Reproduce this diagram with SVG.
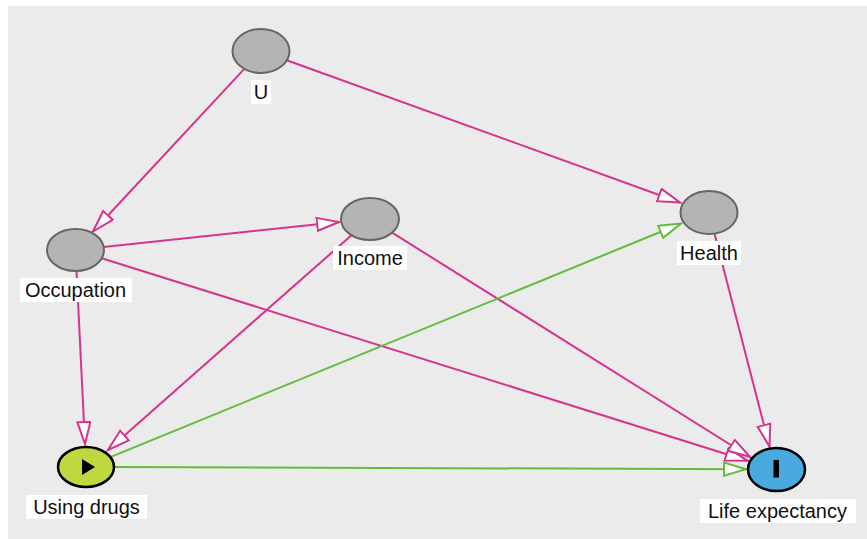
<svg xmlns="http://www.w3.org/2000/svg" width="867" height="539" viewBox="0 0 867 539">
<defs>
<style>
.bg{fill:#ebebeb}
.edge{fill:none;stroke-width:2}
.pink{stroke:#d6338f}
.green{stroke:#63bb3c}
.node{fill:#b4b4b4;stroke:#666;stroke-width:2}
.lbl{font-family:"Liberation Sans",Arial,sans-serif;font-size:20px;fill:#111;text-anchor:middle}
.lblbg{fill:#fff}
</style>
<marker id="ap" markerUnits="userSpaceOnUse" markerWidth="26" markerHeight="18" refX="23" refY="7.5" orient="auto">
<path d="M1,1 L23,7.5 L1,14 Z" fill="#fff" stroke="#d6338f" stroke-width="2"/>
</marker>
<marker id="ag" markerUnits="userSpaceOnUse" markerWidth="26" markerHeight="18" refX="23" refY="7.5" orient="auto">
<path d="M1,1 L23,7.5 L1,14 Z" fill="#fff" stroke="#63bb3c" stroke-width="2"/>
</marker>
</defs>
<rect class="bg" x="8" y="6" width="859" height="533"/>
<g id="connectors">
<line class="edge pink" x1="244.3" y1="68.9" x2="93" y2="231.5" marker-end="url(#ap)"/>
<line class="edge pink" x1="286.8" y1="60.3" x2="680" y2="202.5" marker-end="url(#ap)"/>
<line class="edge pink" x1="103.7" y1="247" x2="339" y2="222" marker-end="url(#ap)"/>
<line class="edge pink" x1="101.7" y1="258.2" x2="747.5" y2="460.8" marker-end="url(#ap)"/>
<line class="edge pink" x1="76.5" y1="271" x2="85" y2="444" marker-end="url(#ap)"/>
<line class="edge pink" x1="351.5" y1="235.2" x2="108" y2="450" marker-end="url(#ap)"/>
<line class="edge pink" x1="392.1" y1="232.6" x2="750" y2="457" marker-end="url(#ap)"/>
<line class="edge pink" x1="714.5" y1="233.6" x2="769.5" y2="446.5" marker-end="url(#ap)"/>
<line class="edge green" x1="110.3" y1="457.1" x2="681" y2="223.5" marker-end="url(#ag)"/>
<line class="edge green" x1="114" y1="467" x2="746" y2="469.2" marker-end="url(#ag)"/>
</g>
<g id="node-U">
<ellipse class="node" cx="261" cy="51" rx="28.5" ry="22"/>
<rect class="lblbg" x="251" y="80" width="20" height="24"/>
<text class="lbl" x="261" y="99">U</text>
</g>
<g id="node-occupation">
<ellipse class="node" cx="75.5" cy="250" rx="28.5" ry="21"/>
<rect class="lblbg" x="20" y="278" width="112" height="24"/>
<text class="lbl" x="75.5" y="297">Occupation</text>
</g>
<g id="node-income">
<ellipse class="node" cx="370" cy="219" rx="29" ry="21"/>
<rect class="lblbg" x="333" y="246" width="74" height="24"/>
<text class="lbl" x="370" y="265">Income</text>
</g>
<g id="node-health">
<ellipse class="node" cx="709" cy="212.5" rx="28.5" ry="21.5"/>
<rect class="lblbg" x="677" y="241" width="64" height="24"/>
<text class="lbl" x="709" y="260">Health</text>
</g>
<g id="node-using-drugs">
<ellipse cx="86" cy="467" rx="28" ry="20" fill="#c0d83f" stroke="#000" stroke-width="2.5"/>
<path d="M82,459 L95,467 L82,475 Z" fill="#000"/>
<rect class="lblbg" x="26" y="495" width="121" height="24"/>
<text class="lbl" x="86.5" y="514">Using drugs</text>
</g>
<g id="node-life-expectancy">
<ellipse cx="776.5" cy="469.5" rx="28.5" ry="21.5" fill="#4aa9df" stroke="#000" stroke-width="2.5"/>
<rect x="773.5" y="460" width="5.5" height="17.5" fill="#000"/>
<rect class="lblbg" x="700" y="499" width="156" height="24"/>
<text class="lbl" x="777.5" y="518">Life expectancy</text>
</g>
</svg>
